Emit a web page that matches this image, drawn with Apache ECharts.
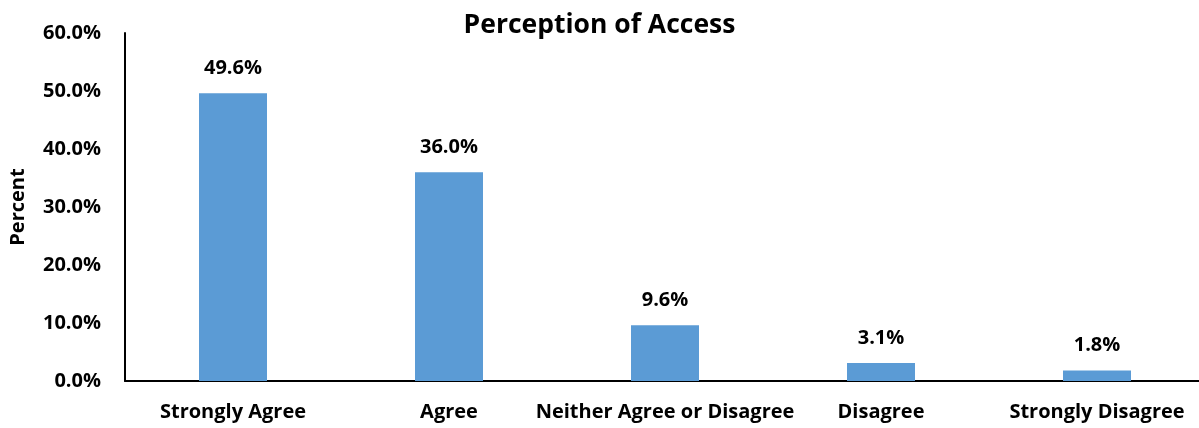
<!DOCTYPE html>
<html>
<head>
<meta charset="utf-8">
<script src="https://cdn.jsdelivr.net/npm/echarts@6/dist/echarts.min.js"></script>
<style>html,body{margin:0;padding:0;background:#fff}#c{width:1199px;height:428px}</style>
</head>
<body>
<div id="c"></div>
<script>
const categories = ['Strongly Agree', 'Agree', 'Neither Agree or Disagree', 'Disagree', 'Strongly Disagree'];
const percents = [49.6, 36.0, 9.6, 3.1, 1.8];
const chartTitle = 'Perception of Access';
const yAxisName = 'Percent';

const FONT = 'Open Sans';
const chart = echarts.init(document.getElementById('c'), null, {renderer: 'canvas'});
chart.setOption({
  animation: false,
  backgroundColor: '#fff',
  title: {
    text: chartTitle, left: 'center', top: 12, padding: 0,
    textStyle: {fontFamily: FONT, fontWeight: 'bold', fontSize: 26.5, color: '#000'}
  },
  grid: {left: 125, right: -6, top: 33, bottom: 47, containLabel: false, outerBoundsMode: 'none'},
  xAxis: {
    type: 'category', data: categories,
    axisLine: {lineStyle: {color: '#000', width: 2}},
    axisTick: {show: false},
    axisLabel: {fontFamily: FONT, fontWeight: 'bold', fontSize: 20, color: '#000', margin: 21, interval: 0}
  },
  yAxis: {
    type: 'value', min: 0, max: 60, interval: 10,
    name: yAxisName, nameLocation: 'middle', nameGap: 97, nameRotate: 90,
    nameTextStyle: {fontFamily: FONT, fontWeight: 'bold', fontSize: 20, color: '#000'},
    axisLine: {show: true, lineStyle: {color: '#000', width: 2}},
    axisTick: {show: false},
    splitLine: {show: false},
    axisLabel: {fontFamily: FONT, fontWeight: 'bold', fontSize: 20, color: '#000', margin: 24,
      formatter: v => v.toFixed(1) + '%'}
  },
  series: [{
    type: 'bar', data: percents, barWidth: 68,
    itemStyle: {color: '#5B9BD5'},
    label: {show: true, position: 'top', distance: 15, fontFamily: FONT, fontWeight: 'bold', fontSize: 20, color: '#000',
      formatter: p => p.value.toFixed(1) + '%'}
  }]
});
</script>
</body>
</html>
